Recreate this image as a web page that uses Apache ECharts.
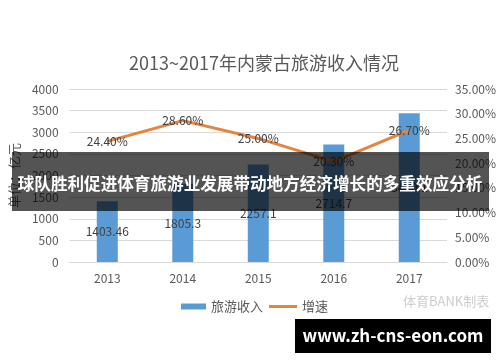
<!DOCTYPE html>
<html>
<head>
<meta charset="utf-8">
<script src="https://cdn.jsdelivr.net/npm/echarts@6/dist/echarts.min.js"></script>
<style>
html,body{margin:0;padding:0;background:#fff;}
#c{width:500px;height:362px;}
</style>
</head>
<body>
<div id="c"></div>
<script>
var categories = ['2013', '2014', '2015', '2016', '2017'];
var incomeValues = [1403.46, 1805.3, 2257.1, 2714.7, 3440.1];
var growthValues = [24.4, 28.6, 25.0, 20.3, 26.7];
var leftTicks = [0, 500, 1000, 1500, 2000, 2500, 3000, 3500, 4000];
var rightTicks = ['0.00%', '5.00%', '10.00%', '15.00%', '20.00%', '25.00%', '30.00%', '35.00%'];
var titleText = '2013~2017年内蒙古旅游收入情况';
var bannerText = '球队胜利促进体育旅游业发展带动地方经济增长的多重效应分析';
var watermarkText = 'www.zh-cns-eon.com';
var sourceText = '体育BANK制表';

var FONT = '"Noto Sans CJK SC", "Noto Sans", sans-serif';
var chart = echarts.init(document.getElementById('c'), null, {renderer: 'canvas'});
chart.setOption({
  animation: false,
  backgroundColor: '#fff',
  textStyle: {fontFamily: FONT},
  title: {
    text: titleText, left: 124, top: 49,
    textStyle: {fontSize: 18, fontWeight: 'normal', color: '#595959', fontFamily: FONT}
  },
  grid: {left: 68, right: 53, top: 89, bottom: 100},
  legend: [{
    data: [{name: '旅游收入', icon: 'rect'}],
    left: 176, top: 295, itemWidth: 25, itemHeight: 6, itemGap: 4,
    textStyle: {fontSize: 13, color: '#595959', fontFamily: FONT}
  }, {
    data: [{name: '增速', icon: 'rect'}],
    left: 264, top: 295, itemWidth: 28, itemHeight: 3, itemGap: 4,
    textStyle: {fontSize: 13, color: '#595959', fontFamily: FONT}
  }],
  xAxis: {
    type: 'category', data: categories,
    axisLine: {show: true, lineStyle: {color: '#d9d9d9'}},
    axisTick: {show: false},
    axisLabel: {color: '#595959', fontSize: 12, margin: 10}
  },
  yAxis: [{
    type: 'value', min: 0, max: 4000, interval: 500,
    name: '单位：亿元', nameLocation: 'middle', nameRotate: 90, nameGap: 40,
    nameTextStyle: {color: '#595959', fontSize: 13},
    axisLine: {show: false}, axisTick: {show: false},
    splitLine: {lineStyle: {color: '#d9d9d9'}},
    axisLabel: {color: '#595959', fontSize: 12, margin: 11,
      formatter: function (v) { return leftTicks.indexOf(v) >= 0 ? String(v) : ''; }}
  }, {
    type: 'value', min: 0, max: 35, interval: 5,
    axisLine: {show: false}, axisTick: {show: false}, splitLine: {show: false},
    axisLabel: {color: '#595959', fontSize: 12, margin: 8,
      formatter: function (v) { return rightTicks[Math.round(v / 5)]; }}
  }],
  series: [{
    name: '旅游收入', type: 'bar', data: incomeValues, barWidth: 21,
    itemStyle: {color: '#5B9BD5'},
    label: {show: true, position: 'inside', color: '#404040', fontSize: 12,
      formatter: function (p) { return String(p.value); }}
  }, {
    name: '增速', type: 'line', yAxisIndex: 1, data: growthValues,
    showSymbol: true, symbol: 'circle', symbolSize: 1,
    lineStyle: {color: '#E3843F', width: 3},
    itemStyle: {color: '#E3843F'},
    z: 3,
    label: {show: true, position: 'inside', color: '#404040', fontSize: 12,
      formatter: function (p) { return p.value.toFixed(2) + '%'; }}
  }],
  graphic: [{
    type: 'text', left: 403, top: 295,
    style: {text: sourceText, fill: '#cdcdcd', font: '13px ' + FONT}
  }, {
    type: 'rect', shape: {x: 12, y: 152, width: 477, height: 59},
    style: {fill: 'rgba(0,0,0,0.67)'}, z: 100
  }, {
    type: 'text', x: 250, y: 184, z: 101,
    style: {text: bannerText, fill: '#fff', font: 'bold 16.6px ' + FONT,
      textAlign: 'center', textVerticalAlign: 'middle'}
  }, {
    type: 'rect', shape: {x: 295, y: 319, width: 196, height: 34},
    style: {fill: '#000'}, z: 100
  }, {
    type: 'text', x: 393, y: 336, z: 101,
    style: {text: watermarkText, fill: '#fff', font: 'bold 17px ' + FONT,
      textAlign: 'center', textVerticalAlign: 'middle'}
  }]
});
</script>
</body>
</html>
